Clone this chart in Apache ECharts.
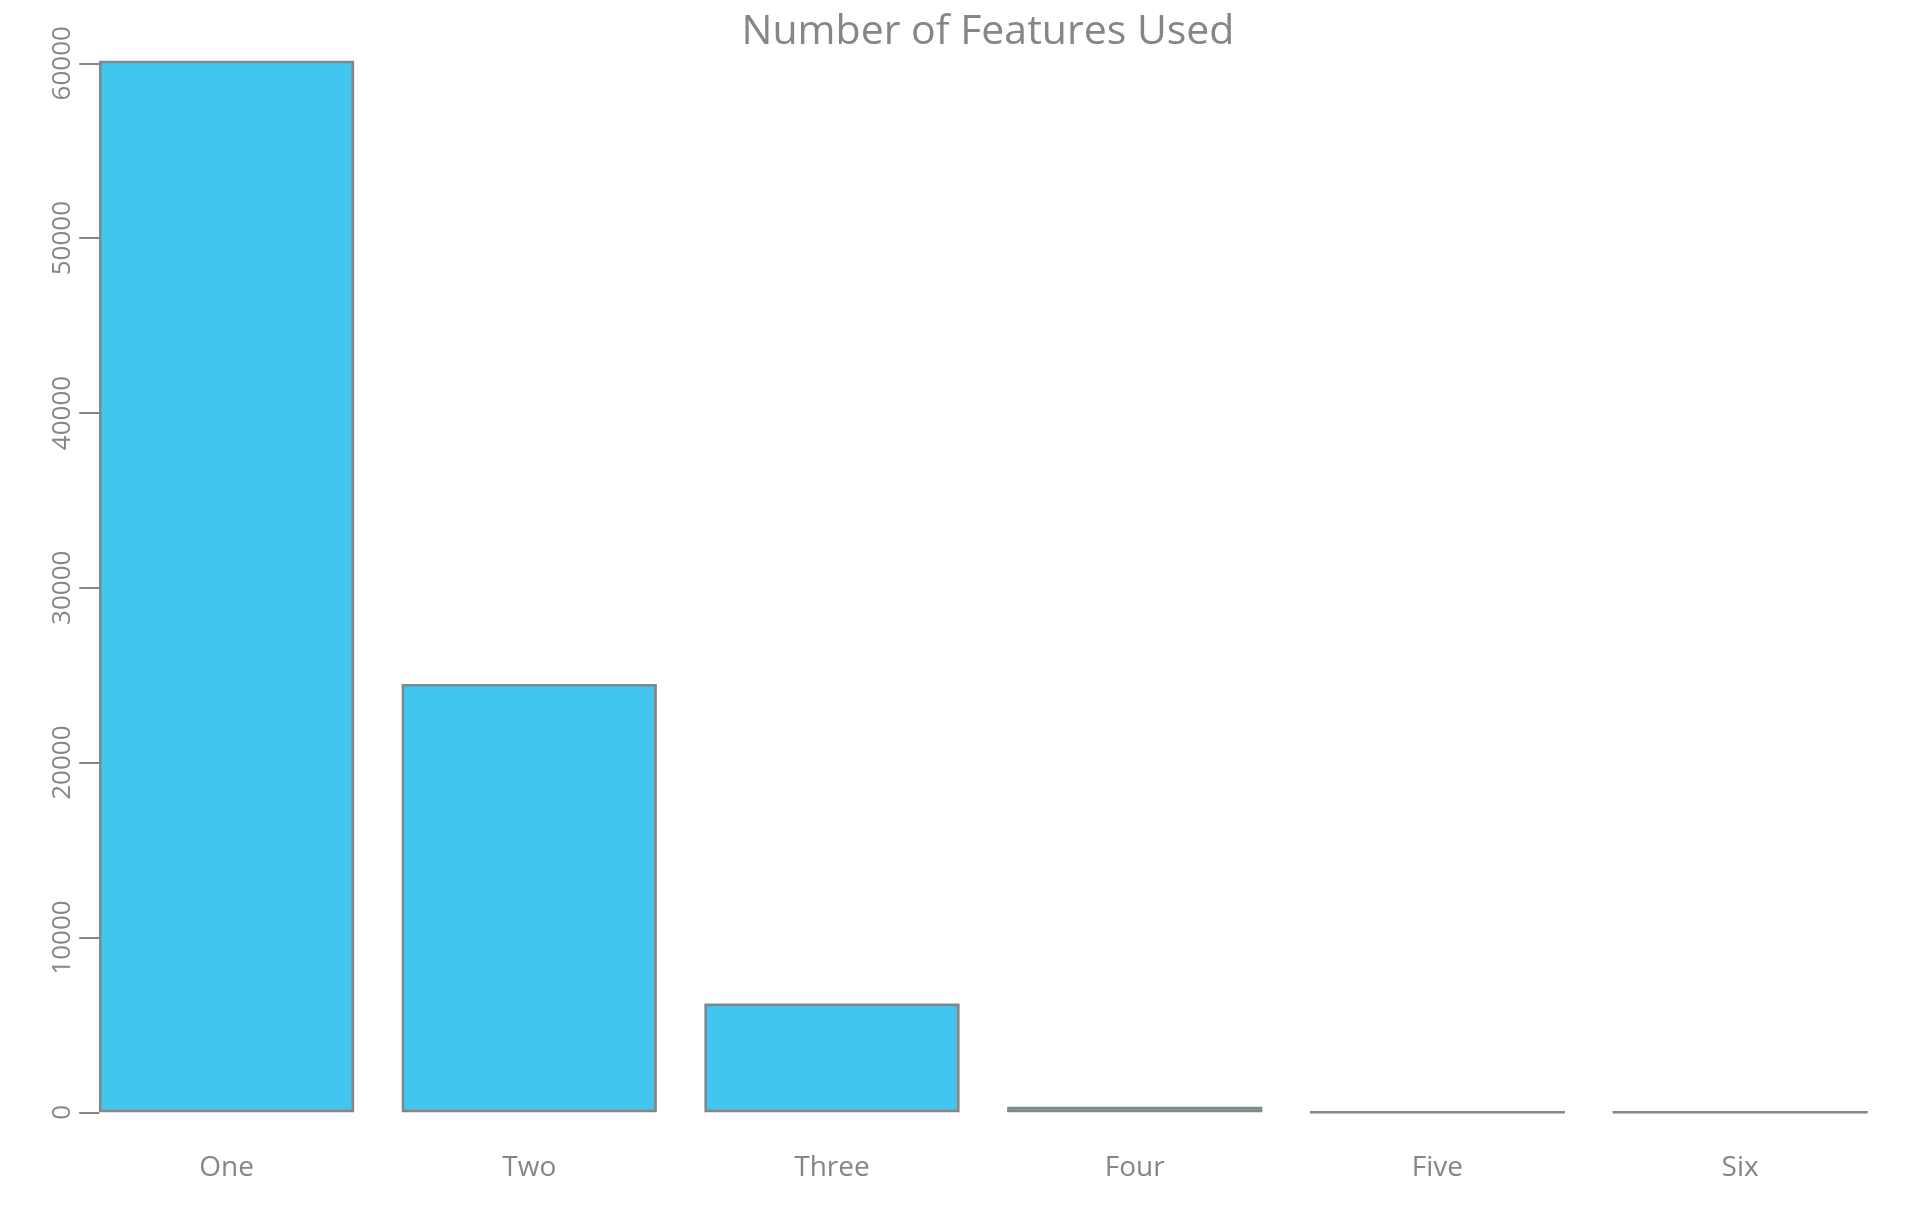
<!DOCTYPE html>
<html>
	<head>
		<meta charset="utf-8" />
		<title>Number of Features Used</title>
		<script type="text/javascript" src="https://cdn.jsdelivr.net/npm/echarts@6/dist/echarts.min.js"></script>
		<style>
			html,body{ margin:0; padding:0; background:#fff;}
			#chart{ width:1906px; height:1223px;}
		</style>
	</head>
	<body>
		<div id="chart"></div>
	</body>
</html>
<script>
	var categories=['One','Two','Three','Four','Five','Six'];
	var counts=[60150,24500,6220,320,12,4];
	var yTicks=[0,10000,20000,30000,40000,50000,60000];

	var gray='#868686';
	var myChart=echarts.init(document.getElementById('chart'));
	var option={
		animation:false,
		textStyle:{ fontFamily:'Open Sans'},
		title:{
			text:'Number of Features Used',
			left:983,
			textAlign:'center',
			top:7,
			textStyle:{ fontFamily:'Open Sans', fontSize:41, fontWeight:'normal', color:gray}
		},
		grid:{ left:75.2, right:14.5, top:63.3, bottom:110.7},
		xAxis:{
			type:'category',
			data:categories,
			axisLine:{ show:false},
			axisTick:{ show:false},
			axisLabel:{ color:gray, fontSize:28, margin:42, fontFamily:'Open Sans'}
		},
		yAxis:{
			type:'value',
			min:yTicks[0],
			max:yTicks[yTicks.length-1],
			interval:10000,
			offset:-24,     // axis sits on the left edge of the first bar
			splitLine:{ show:false},
			axisLine:{ show:false},
			axisTick:{ show:true, length:20, lineStyle:{ color:gray, width:2}},
			axisLabel:{
				color:gray, fontSize:26, rotate:90, margin:24, fontFamily:'Open Sans',
				formatter:function(v){ return String(v);}
			}
		},
		series:[
			{
				type:'bar',
				data:counts,
				clip:false,
				barCategoryGap:'15.7%',
				itemStyle:{ color:'#42C6F0', borderColor:gray, borderWidth:2.6}
			}
		]
	};
	myChart.setOption(option);
</script>
